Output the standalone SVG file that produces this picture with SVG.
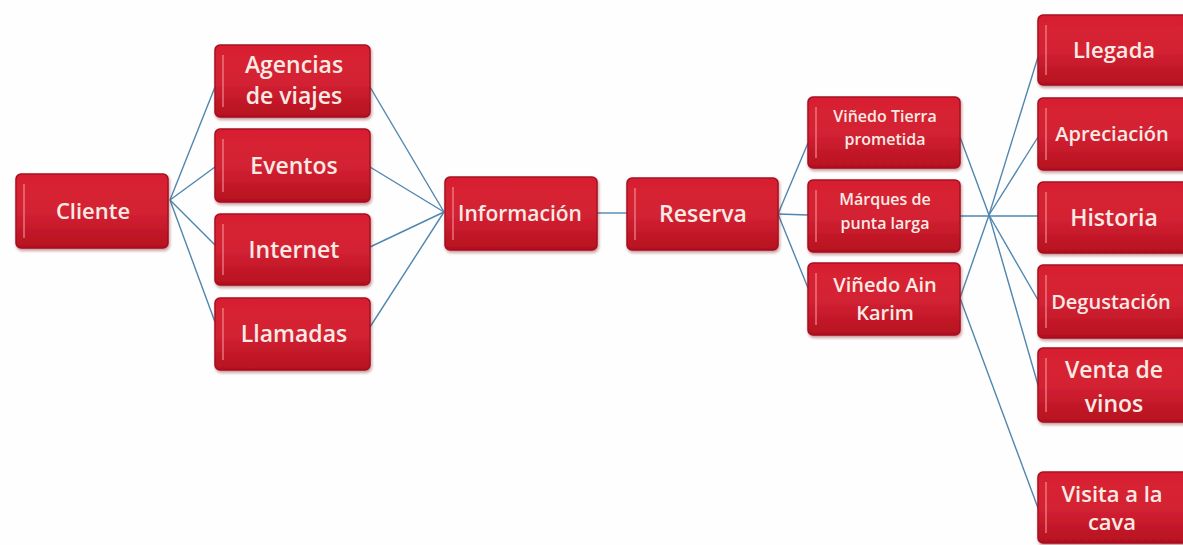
<svg xmlns="http://www.w3.org/2000/svg" width="1183" height="545" viewBox="0 0 1183 545">
<defs>
<linearGradient id="red" x1="0" y1="0" x2="0" y2="1">
<stop offset="0" stop-color="#d81f30"/>
<stop offset="0.5" stop-color="#d42234"/>
<stop offset="1" stop-color="#b5101f"/>
</linearGradient>
<filter id="sh" x="-10%" y="-10%" width="120%" height="130%">
<feDropShadow dx="1" dy="2" stdDeviation="1.5" flood-color="#7a1a1a" flood-opacity="0.45"/>
</filter>
</defs>
<style>
.box{fill:url(#red);stroke:#a51020;stroke-width:1.5;filter:url(#sh)}
.bev{stroke:#f08a90;stroke-width:1.5;opacity:0.8}
.t{font-family:"Open Sans","Liberation Sans",sans-serif;font-weight:600;fill:#fbeae4;text-anchor:middle}
.c line{stroke:#4f86b0;stroke-width:1.4;fill:none}
</style>
<rect width="1183" height="545" fill="#fefefe"/>
<g class="c" id="connectors">
<line x1="170" y1="200" x2="215" y2="87"/>
<line x1="170" y1="200" x2="215" y2="167"/>
<line x1="170" y1="200" x2="215" y2="245"/>
<line x1="170" y1="200" x2="215" y2="322"/>
<line x1="370" y1="87" x2="444" y2="212"/>
<line x1="370" y1="167" x2="444" y2="212"/>
<line x1="370" y1="247" x2="444" y2="212"/>
<line x1="370" y1="327" x2="444" y2="212"/>
<line x1="597" y1="213" x2="627" y2="213"/>
<line x1="778" y1="214" x2="808" y2="143"/>
<line x1="778" y1="214" x2="808" y2="215"/>
<line x1="778" y1="214" x2="808" y2="288"/>
<line x1="960" y1="137" x2="989" y2="215"/>
<line x1="960" y1="298" x2="989" y2="215"/>
<line x1="989" y1="215" x2="1038" y2="57"/>
<line x1="989" y1="215" x2="1038" y2="137"/>
<line x1="960" y1="216" x2="1038" y2="216"/>
<line x1="989" y1="215" x2="1038" y2="300"/>
<line x1="989" y1="215" x2="1038" y2="385"/>
<line x1="960" y1="298" x2="1038" y2="508"/>
</g>
<g id="cliente"><rect class="box" x="16" y="174" width="152" height="74" rx="5"/><line class="bev" x1="24" y1="184" x2="24" y2="238"/><text class="t" x="93" y="219" font-size="22">Cliente</text></g>
<g id="agencias"><rect class="box" x="215" y="45" width="155" height="72" rx="5"/><line class="bev" x1="223" y1="55" x2="223" y2="107"/><text class="t" x="294" y="73" font-size="23">Agencias</text><text class="t" x="294" y="104" font-size="23">de viajes</text></g>
<g id="eventos"><rect class="box" x="215" y="129" width="155" height="73" rx="5"/><line class="bev" x1="223" y1="139" x2="223" y2="192"/><text class="t" x="294" y="174" font-size="23">Eventos</text></g>
<g id="internet"><rect class="box" x="215" y="214" width="155" height="71" rx="5"/><line class="bev" x1="223" y1="224" x2="223" y2="275"/><text class="t" x="294" y="258" font-size="23">Internet</text></g>
<g id="llamadas"><rect class="box" x="215" y="298" width="155" height="72" rx="5"/><line class="bev" x1="223" y1="308" x2="223" y2="360"/><text class="t" x="294" y="342" font-size="23">Llamadas</text></g>
<g id="informacion"><rect class="box" x="445" y="177" width="152" height="73" rx="5"/><line class="bev" x1="453" y1="187" x2="453" y2="240"/><text class="t" x="520" y="221" font-size="21">Información</text></g>
<g id="reserva"><rect class="box" x="627" y="178" width="151" height="72" rx="5"/><line class="bev" x1="635" y1="188" x2="635" y2="240"/><text class="t" x="703" y="222" font-size="23">Reserva</text></g>
<g id="tierra"><rect class="box" x="808" y="97" width="152" height="71" rx="5"/><line class="bev" x1="816" y1="107" x2="816" y2="158"/><text class="t" x="885" y="122" font-size="16">Viñedo Tierra</text><text class="t" x="885" y="145" font-size="16">prometida</text></g>
<g id="marques"><rect class="box" x="808" y="180" width="152" height="72" rx="5"/><line class="bev" x1="816" y1="190" x2="816" y2="242"/><text class="t" x="885" y="205" font-size="16">Márques de</text><text class="t" x="885" y="229" font-size="16">punta larga</text></g>
<g id="ainkarim"><rect class="box" x="808" y="263" width="152" height="72" rx="5"/><line class="bev" x1="816" y1="273" x2="816" y2="325"/><text class="t" x="885" y="292" font-size="20">Viñedo Ain</text><text class="t" x="885" y="320" font-size="20">Karim</text></g>
<g id="llegada"><rect class="box" x="1038" y="15" width="152" height="70" rx="5"/><line class="bev" x1="1046" y1="25" x2="1046" y2="75"/><text class="t" x="1114" y="58" font-size="22">Llegada</text></g>
<g id="apreciacion"><rect class="box" x="1038" y="98" width="152" height="72" rx="5"/><line class="bev" x1="1046" y1="108" x2="1046" y2="160"/><text class="t" x="1112" y="141" font-size="20">Apreciación</text></g>
<g id="historia"><rect class="box" x="1038" y="182" width="152" height="71" rx="5"/><line class="bev" x1="1046" y1="192" x2="1046" y2="243"/><text class="t" x="1114" y="226" font-size="23">Historia</text></g>
<g id="degustacion"><rect class="box" x="1038" y="265" width="152" height="73" rx="5"/><line class="bev" x1="1046" y1="275" x2="1046" y2="328"/><text class="t" x="1111" y="309" font-size="20">Degustación</text></g>
<g id="venta"><rect class="box" x="1038" y="348" width="152" height="74" rx="5"/><line class="bev" x1="1046" y1="358" x2="1046" y2="412"/><text class="t" x="1114" y="378" font-size="23">Venta de</text><text class="t" x="1114" y="412" font-size="23">vinos</text></g>
<g id="visita"><rect class="box" x="1038" y="472" width="152" height="71" rx="5"/><line class="bev" x1="1046" y1="482" x2="1046" y2="533"/><text class="t" x="1112" y="502" font-size="22">Visita a la</text><text class="t" x="1112" y="530" font-size="22">cava</text></g>
</svg>
